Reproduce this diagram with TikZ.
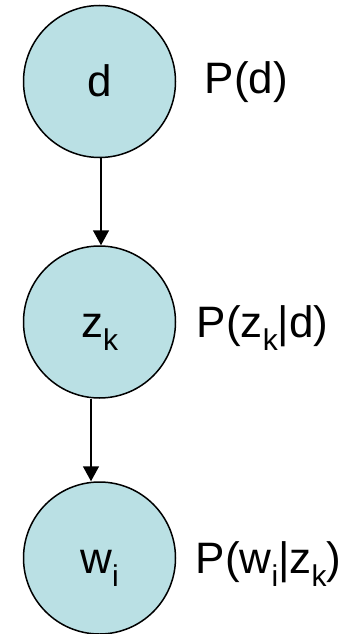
\documentclass[tikz,border=0pt]{standalone}
\usepackage{fontspec}
\setmainfont{Liberation Sans}
\usetikzlibrary{arrows.meta,positioning}
\definecolor{nodefill}{RGB}{186,224,228}
\newcommand{\lowidx}[1]{\raisebox{-0.3em}{\fontsize{30}{32}\selectfont #1}}
\begin{document}
\begin{tikzpicture}[x=1pt, y=1pt, >={Triangle[width=16pt,length=15pt]}, line width=1.5pt,
		var/.style={circle, draw=black, fill=nodefill, minimum size=152pt, inner sep=0pt, text height=30pt, text depth=0pt, font=\fontsize{44}{48}\selectfont},
		prob/.style={anchor=west, inner sep=0pt, font=\fontsize{44}{48}\selectfont}]
	% 1. 画布
	\useasboundingbox (0,0) rectangle (356,-634);
	
	% 2. 变量结点
	\node[var] (d) at (99.5,-81.5) {d};
	\node[var] (z) at (99.5,-322) {z\lowidx{k}};
	\node[var] (w) at (99.5,-558) {w\lowidx{i}};
	
	% 3. 概率标签
	\node[prob] (pd) at (204,-82) {P(d)};
	\node[prob] (pz) at (196,-328) {P(z\lowidx{k}|d)};
	\node[prob] (pw) at (195,-564) {P(w\lowidx{i}|z\lowidx{k})};
	
	% 4. 有向边
	\draw[->] ([xshift=1.5pt]d.south) -- ([xshift=1.5pt]z.north);
	\draw[->] ([xshift=-8.5pt]z.south) -- ([xshift=-8.5pt]w.north);
\end{tikzpicture}
\end{document}
